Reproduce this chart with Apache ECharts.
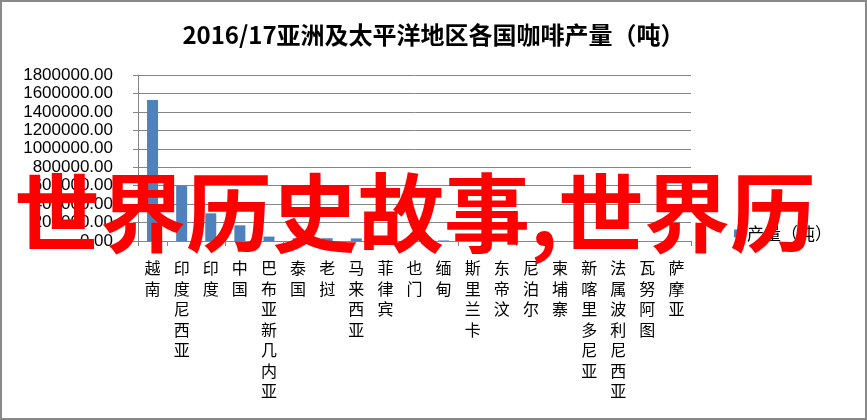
<!DOCTYPE html>
<html>
<head>
<meta charset="utf-8">
<script src="https://cdn.jsdelivr.net/npm/echarts@6/dist/echarts.min.js"></script>
<style>
html,body{margin:0;padding:0;background:#fff;}
#frame{width:867px;height:420px;box-sizing:border-box;border:2px solid #898989;position:relative;}
#chart{position:absolute;left:-2px;top:-2px;width:867px;height:420px;}
</style>
</head>
<body>
<div id="frame"><div id="chart"></div></div>
<script>
const categories = ['越南','印度尼西亚','印度','中国','巴布亚新几内亚','泰国','老挝','马来西亚','菲律宾','也门','缅甸','斯里兰卡','东帝汶','尼泊尔','柬埔寨','新喀里多尼亚','法属波利尼西亚','瓦努阿图','萨摩亚'];
const production = [1530000, 600000, 300000, 170000, 48000, 30000, 30000, 28000, 22000, 7000, 6000, 2000, 6000, 500, 500, 60, 30, 60, 30];
const seriesName = '产量（吨）';
const titleText = '2016/17亚洲及太平洋地区各国咖啡产量（吨）';
const watermarkText = '世界历史故事,世界历';

const chart = echarts.init(document.getElementById('chart'), null, {renderer:'canvas'});
const cjk = '"Noto Sans CJK SC", sans-serif';
chart.setOption({
  animation:false,
  backgroundColor:'transparent',
  title:{
    text:titleText, left:'center', top:18,
    textStyle:{fontSize:24, fontWeight:'bold', color:'#000', fontFamily:'"Liberation Sans Narrow","Noto Sans CJK SC",sans-serif'}
  },
  legend:{
    left:729, top:220, itemWidth:8, itemHeight:8, itemGap:5,
    icon:'rect',
    data:[seriesName],
    textStyle:{fontSize:17, color:'#000', fontFamily:cjk}
  },
  grid:{left:138, right:176, top:75, bottom:179, containLabel:false},
  xAxis:{
    type:'category', data:categories,
    axisLine:{lineStyle:{color:'#868686', width:1}},
    axisTick:{show:true, length:5, alignWithLabel:false, lineStyle:{color:'#868686'}},
    axisLabel:{
      interval:0, margin:17, fontSize:16, lineHeight:20.5, color:'#000', fontFamily:cjk,
      verticalAlign:'top',
      formatter:v=>v.split('').join('\n')
    }
  },
  yAxis:{
    type:'value', min:0, max:1800000, interval:200000,
    axisLine:{show:true, lineStyle:{color:'#868686'}},
    axisTick:{show:true, length:5, lineStyle:{color:'#868686'}},
    splitLine:{lineStyle:{color:'#868686', width:1}},
    axisLabel:{margin:25, fontSize:17, color:'#000', fontFamily:'"Liberation Sans",sans-serif', formatter:v=>v.toFixed(2)}
  },
  series:[{
    name:seriesName, type:'bar', data:production, barWidth:11,
    itemStyle:{color:'#4F81BD'}
  }],
  graphic:[{
    type:'text', x:14, y:170, z:100,
    style:{text:watermarkText, fill:'#FF0000', font:'bold 86px "Noto Sans CJK SC", sans-serif'}
  }]
});
</script>
</body>
</html>
